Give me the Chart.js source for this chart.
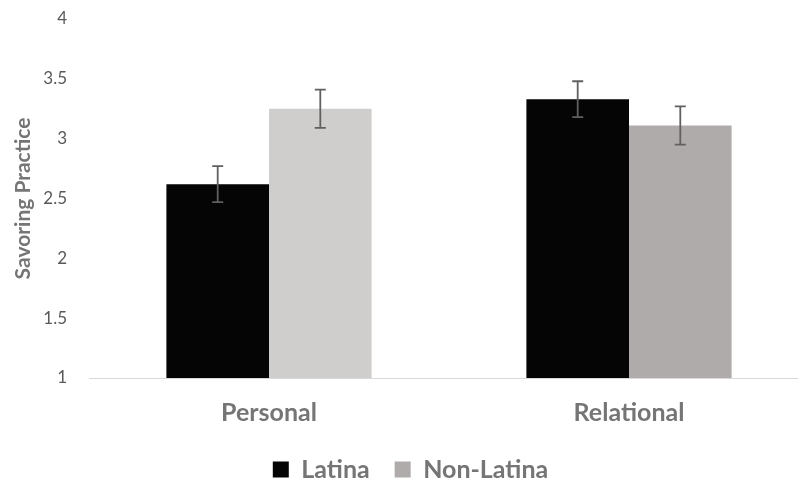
<!DOCTYPE html>
<html>
<head>
<meta charset="utf-8">
<script src="https://cdn.jsdelivr.net/npm/chart.js@4/dist/chart.umd.min.js"></script>
<style>
  html, body { margin: 0; padding: 0; background: #ffffff; }
  #wrap { width: 798px; height: 481px; overflow: hidden; position: relative; background: #ffffff; }
  canvas { display: block; }
</style>
</head>
<body>
<div id="wrap"><canvas id="c" width="830" height="492"></canvas></div>
<script>
const categories = ['Personal', 'Relational'];
const seriesNames = ['Latina', 'Non-Latina'];
const latinaValues = [2.62, 3.33];
const nonLatinaValues = [3.25, 3.11];
const latinaErrors = [0.15, 0.15];
const nonLatinaErrors = [0.16, 0.16];
const yTickValues = [1, 1.5, 2, 2.5, 3, 3.5, 4];
const yTickLabels = ['1', '1.5', '2', '2.5', '3', '3.5', '4'];
const yAxisTitle = 'Savoring Practice';

const FONT = 'Lato, "Open Sans", "DejaVu Sans", sans-serif';

const errorBarPlugin = {
  id: 'errorBars',
  afterDatasetsDraw(chart) {
    const ctx = chart.ctx;
    const yScale = chart.scales.y;
    ctx.save();
    ctx.strokeStyle = '#606060';
    ctx.lineWidth = 1.8;
    chart.data.datasets.forEach((ds, di) => {
      const meta = chart.getDatasetMeta(di);
      meta.data.forEach((bar, i) => {
        const v = ds.data[i];
        const e = ds.errors[i];
        const x = bar.x;
        const yTop = yScale.getPixelForValue(v + e);
        const yBot = yScale.getPixelForValue(v - e);
        const cap = 5.5;
        ctx.beginPath();
        ctx.moveTo(x, yTop); ctx.lineTo(x, yBot);
        ctx.moveTo(x - cap, yTop); ctx.lineTo(x + cap, yTop);
        ctx.moveTo(x - cap, yBot); ctx.lineTo(x + cap, yBot);
        ctx.stroke();
      });
    });
    ctx.restore();
  }
};

const legendShiftPlugin = {
  id: 'legendShift',
  afterLayout(chart) {
    const lg = chart.legend;
    if (lg) { lg.left += 6; lg.right += 6; }
  }
};

new Chart(document.getElementById('c'), {
  type: 'bar',
  data: {
    labels: categories,
    datasets: [
      {
        label: seriesNames[0],
        data: latinaValues,
        errors: latinaErrors,
        backgroundColor: '#050505',
        borderWidth: 0,
        barPercentage: 1.0,
        categoryPercentage: 0.57
      },
      {
        label: seriesNames[1],
        data: nonLatinaValues,
        errors: nonLatinaErrors,
        backgroundColor: ['#d0cecd', '#afabaa'],
        borderWidth: 0,
        barPercentage: 1.0,
        categoryPercentage: 0.57
      }
    ]
  },
  options: {
    responsive: false,
    animation: false,
    layout: { padding: { top: 19, right: 21, left: 0, bottom: 0 } },
    plugins: {
      tooltip: { enabled: false },
      legend: {
        position: 'bottom',
        labels: {
          boxWidth: 16,
          boxHeight: 16,
          padding: 25,
          color: '#757575',
          font: { family: FONT, size: 25, weight: 'bold' },
          generateLabels(chart) {
            const cols = ['#050505', '#afabab'];
            return seriesNames.map((n, i) => ({
              text: n,
              fillStyle: cols[i],
              strokeStyle: cols[i],
              lineWidth: 0,
              hidden: false,
              datasetIndex: i,
              fontColor: '#757575'
            }));
          }
        }
      }
    },
    scales: {
      x: {
        afterFit(scale) { scale.height = 54; },
        grid: { display: false, drawTicks: false },
        border: { display: true, color: '#d9d9d9', width: 1 },
        ticks: {
          padding: 20,
          color: '#757575',
          font: { family: FONT, size: 25, weight: 'bold' }
        }
      },
      y: {
        min: 1,
        max: 4,
        afterBuildTicks(scale) {
          scale.ticks = yTickValues.map(v => ({ value: v }));
        },
        afterFit(scale) {
          scale.width = 89;
          scale.paddingTop = 10;
          scale.paddingBottom = 10;
        },
        grid: { display: false, drawTicks: false },
        border: { display: false },
        ticks: {
          padding: 22,
          color: '#595959',
          font: { family: FONT, size: 17 },
          callback(value) {
            const idx = yTickValues.indexOf(value);
            return idx >= 0 ? yTickLabels[idx] : '';
          }
        },
        title: {
          display: true,
          text: yAxisTitle,
          color: '#757575',
          padding: { top: 11, bottom: 0 },
          font: { family: FONT, size: 21, weight: 'bold' }
        }
      }
    }
  },
  plugins: [errorBarPlugin, legendShiftPlugin]
});
</script>
</body>
</html>
